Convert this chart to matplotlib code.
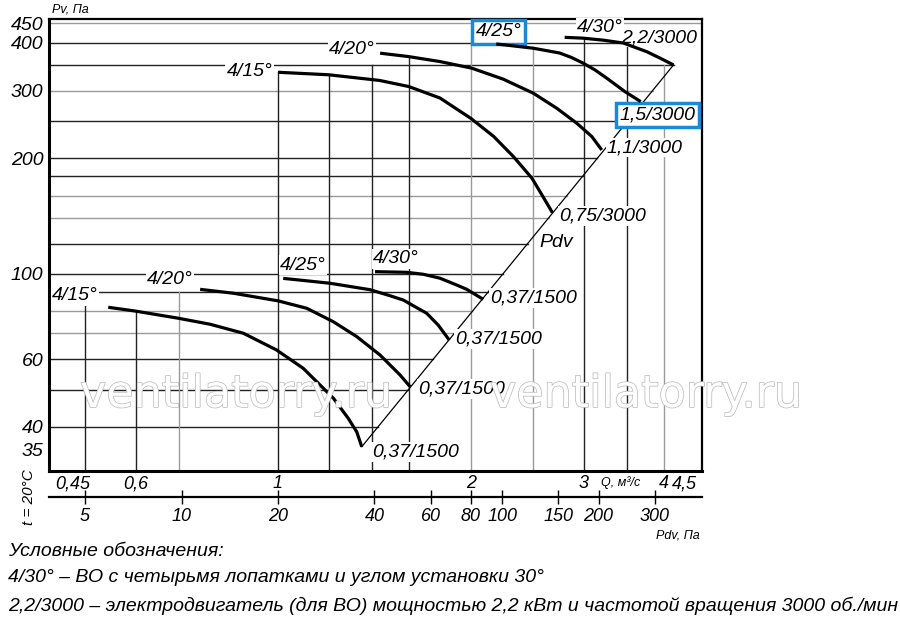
import numpy as np
import matplotlib.pyplot as plt
import matplotlib.patheffects as pe
from matplotlib.ticker import NullLocator

plt.rcParams['font.family'] = ['Liberation Sans', 'DejaVu Sans']

# характеристики при 3000 об/мин: Q, м3/с -> Pv, Па
q_15_hi = [1.0, 1.2, 1.44, 1.6, 1.79, 2.0, 2.17, 2.33, 2.49, 2.59, 2.68]
pv_15_hi = [335, 330, 319, 307.5, 287, 254, 228, 202, 177.5, 159, 144.4]
q_20_hi = [1.443, 1.597, 1.789, 2.005, 2.246, 2.502, 2.721, 2.924, 3.087, 3.199]
pv_20_hi = [375.6, 368.1, 357.2, 343.4, 321.4, 295.5, 270.1, 246.9, 227.9, 210.3]
q_25_hi = [2.19, 2.5, 2.75, 2.87, 2.99, 3.12, 3.26, 3.48, 3.68]
pv_25_hi = [397, 387, 376, 366, 354, 340, 323, 298, 281]
q_30_hi = [2.80, 2.99, 3.22, 3.46, 3.76, 3.94, 4.14]
pv_30_hi = [413, 411, 406, 399, 379, 365, 350]

# характеристики при 1500 об/мин
q_15_lo = [0.5435, 0.598, 0.699, 0.783, 0.883, 0.995, 1.095, 1.22, 1.287, 1.327, 1.351]
pv_15_lo = [81.9, 80.1, 76.7, 74.0, 70.1, 63.4, 56.8, 47.5, 42.1, 38.8, 35.5]
q_20_lo = [0.756, 0.852, 1.001, 1.109, 1.22, 1.327, 1.443, 1.55, 1.607]
pv_20_lo = [91.2, 89.1, 85.1, 81.4, 75.1, 68.7, 61.5, 54.6, 50.9]
q_25_lo = [1.019, 1.205, 1.392, 1.495, 1.569, 1.706, 1.778, 1.85]
pv_25_lo = [97.4, 94.6, 91.0, 87.8, 85.5, 79.0, 73.6, 67.3]
q_30_lo = [1.417, 1.588, 1.686, 1.789, 1.9, 1.97, 2.09]
pv_30_lo = [101.4, 101.0, 99.8, 97.5, 93.6, 91.2, 85.9]

# линия динамического давления Pdv (через концы кривых)
diag_q = [1.351, 4.14]
diag_pv = [35.5, 350]
PDV_K = 20.0  # Pdv = 20*Q^2

# сетка
grid_pv = [450, 400, 350, 300, 250, 200, 180, 160, 140, 120, 100, 90, 80, 70, 60, 50, 40]
grid_pv_gray = [450, 300, 160, 140, 80, 70]
grid_q = [0.5, 0.6, 0.7, 1, 1.2, 1.4, 1.6, 2, 2.5, 3, 3.5, 4]
grid_q_top = [85, 80, 90, 335, 330, 350, 368, 400, 390, 410, 397, 350]
grid_q_gray = [0.7, 2, 2.5, 4]

q_ticks = [0.45, 0.6, 1, 2, 3, 4, 4.5]
q_labels = ['0,45', '0,6', '1', '2', '3', '4', '4,5']
pv_ticks = [35, 40, 60, 100, 200, 300, 400, 450]
pdv_ticks = [5, 10, 20, 40, 60, 80, 100, 150, 200, 300]

labels = [
    ('4/15°', 0.98, 336, 'right', False),
    ('4/20°', 1.417, 383, 'right', False),
    ('4/25°', 2.206, 427, 'center', True),
    ('4/30°', 3.18, 437, 'center', False),
    ('2,2/3000', 3.93, 412, 'center', False),
    ('1,5/3000', 3.91, 260, 'center', True),
    ('1,1/3000', 3.26, 213, 'left', False),
    ('0,75/3000', 2.745, 141.6, 'left', False),
    ('Pdv', 2.56, 120.4, 'left', False),
    ('4/15°', 0.444, 87.7, 'left', False),
    ('4/20°', 0.625, 97, 'left', False),
    ('4/25°', 1.007, 105.5, 'left', False),
    ('4/30°', 1.406, 109.4, 'left', False),
    ('0,37/1500', 2.14, 86.6, 'left', False),
    ('0,37/1500', 1.889, 67.7, 'left', False),
    ('0,37/1500', 1.654, 50.2, 'left', False),
    ('0,37/1500', 1.402, 34.4, 'left', False),
]

fig = plt.figure(figsize=(9, 6.24), dpi=100)
ax = fig.add_axes([49/900, 1 - 471/624, 653/900, 452/624])
ax.set_xscale('log')
ax.set_yscale('log')
ax.set_xlim(0.4393, 4.586)
ax.set_ylim(30.7, 461)

# горизонтальные линии до линии Pdv
lq = np.log10(diag_q)
lp = np.log10(diag_pv)
for p in grid_pv:
    qe = 10 ** (lq[0] + (np.log10(p) - lp[0]) * (lq[1] - lq[0]) / (lp[1] - lp[0]))
    qe = min(qe, 4.586)
    c = '#9a9a9a' if p in grid_pv_gray else '#222222'
    ax.plot([0.4393, qe], [p, p], color=c, lw=1.0, zorder=1)

for q, top in zip(grid_q, grid_q_top):
    c = '#9a9a9a' if q in grid_q_gray else '#222222'
    ax.plot([q, q], [30.7, top], color=c, lw=1.0, zorder=1)

ax.plot(diag_q, diag_pv, color='black', lw=0.9, zorder=2)

for qs, ps in [(q_15_hi, pv_15_hi), (q_20_hi, pv_20_hi), (q_25_hi, pv_25_hi),
               (q_30_hi, pv_30_hi), (q_15_lo, pv_15_lo), (q_20_lo, pv_20_lo),
               (q_25_lo, pv_25_lo), (q_30_lo, pv_30_lo)]:
    ax.plot(qs, ps, color='black', lw=2.3, zorder=4,
            solid_capstyle='butt', solid_joinstyle='round')

for txt, q, p, ha, boxed in labels:
    if boxed:
        bb = dict(facecolor='white', edgecolor='#1b8ad6', lw=2.5, pad=2.5)
    else:
        bb = dict(facecolor='white', edgecolor='none', pad=0.8)
    ax.text(q, p, txt, ha=ha, va='center', fontsize=14, style='italic',
            bbox=bb, zorder=3)

# оси
ax.set_xticks(q_ticks, q_labels, fontsize=13, style='italic')
ax.xaxis.set_minor_locator(NullLocator())
ax.set_yticks(pv_ticks, [str(v) for v in pv_ticks], fontsize=14, style='italic')
ax.yaxis.set_minor_locator(NullLocator())
ax.tick_params(axis='x', length=0, pad=3)
ax.tick_params(axis='y', length=0, pad=4)
ax.get_xticklabels()[0].set_ha('left')
ax.get_xticklabels()[-1].set_ha('right')
for s in ['left', 'bottom']:
    ax.spines[s].set_linewidth(2.2)
for s in ['top', 'right']:
    ax.spines[s].set_linewidth(1.6)

sec = ax.secondary_xaxis(-0.0575, functions=(lambda q: PDV_K * np.asarray(q) ** 2,
                                             lambda p: np.sqrt(np.asarray(p) / PDV_K)))
sec.set_xticks(pdv_ticks, [str(v) for v in pdv_ticks], fontsize=13, style='italic')
sec.xaxis.set_minor_locator(NullLocator())
sec.tick_params(axis='x', direction='inout', length=10, width=1, pad=3)
sec.spines['bottom'].set_linewidth(1.6)

# подписи
fig.text(52/900, 1 - 9/624, 'Pv, Па', fontsize=9, style='italic', va='center')
fig.text(621/900, 1 - 483/624, 'Q, м³/с', fontsize=9, style='italic', va='center', ha='center')
fig.text(700/900, 1 - 536/624, 'Pdv, Па', fontsize=9, style='italic', va='center', ha='right')
fig.text(29/900, 1 - 497/624, 't = 20°C', fontsize=11, style='italic', rotation=90,
         va='center', ha='center')

for x0 in [80, 490]:
    fig.text(x0/900, 1 - 407/624, 'ventilatorry.ru', fontsize=32, color='white',
             family='DejaVu Sans', va='baseline', ha='left',
             path_effects=[pe.withStroke(linewidth=1.1, foreground='#bdbdbd')])

legend_lines = [
    'Условные обозначения:',
    '4/30° – ВО с четырьмя лопатками и углом установки 30°',
    '2,2/3000 – электродвигатель (для ВО) мощностью 2,2 кВт и частотой вращения 3000 об./мин',
]
for yy, line in zip([552, 578, 606], legend_lines):
    fig.text(8/900, 1 - yy/624, line, fontsize=14, style='italic', va='center', ha='left')

plt.savefig('out.png', dpi=100)
